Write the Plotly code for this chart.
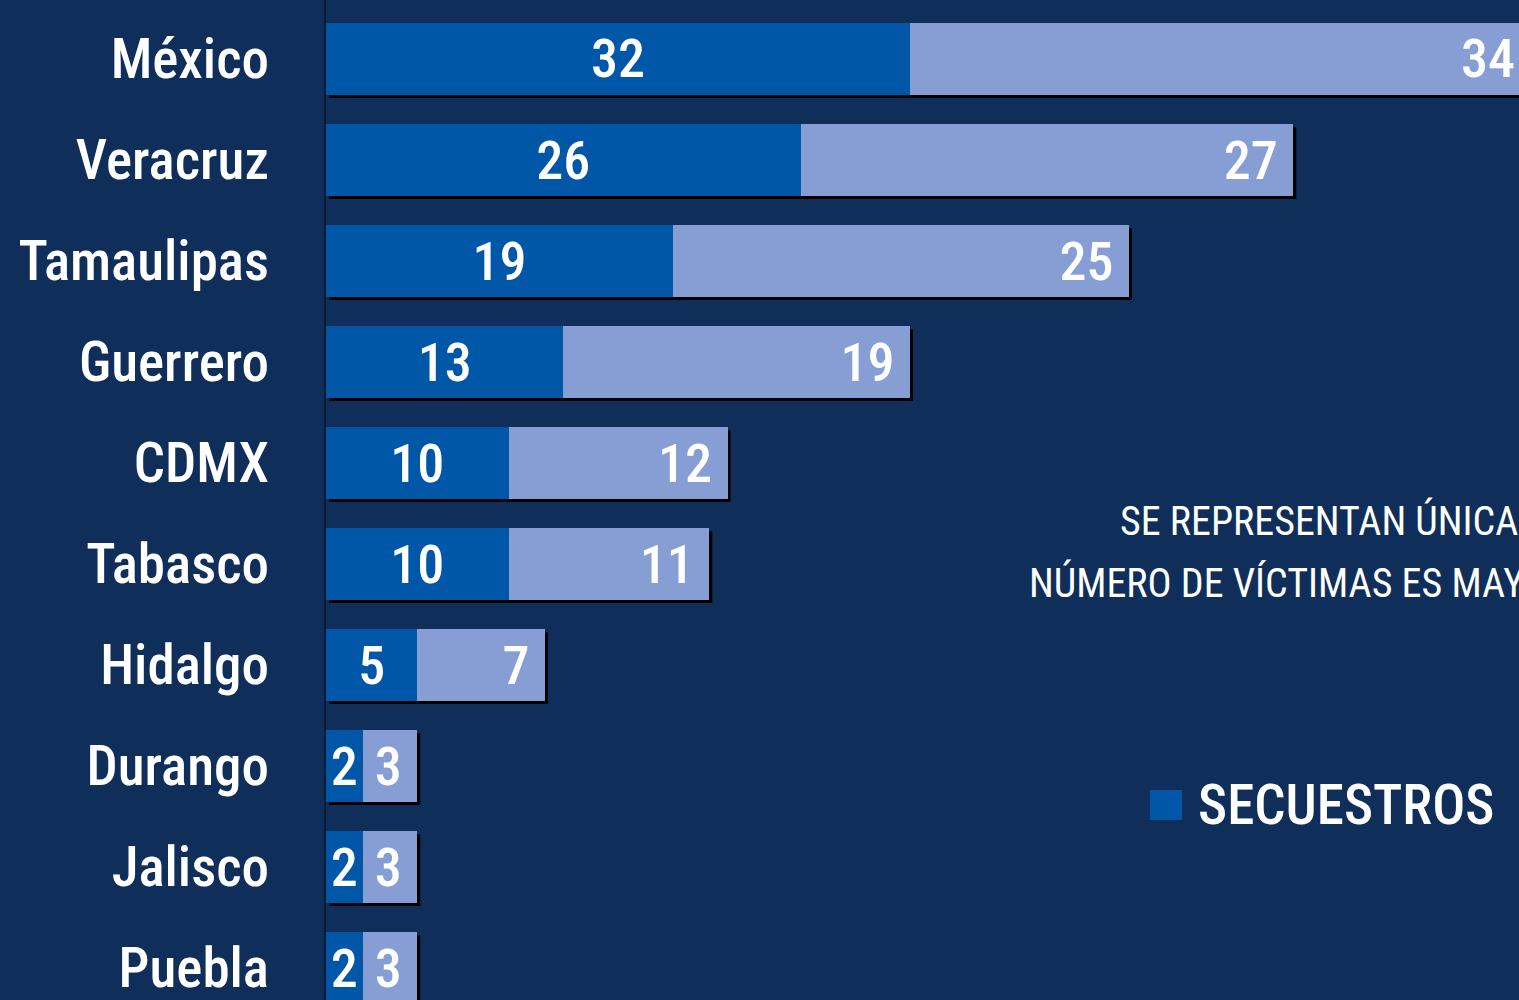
"""Secuestros por estado - barras horizontales apiladas"""
import plotly.graph_objects as go

# Datos
estados = ["México", "Veracruz", "Tamaulipas", "Guerrero", "CDMX",
           "Tabasco", "Hidalgo", "Durango", "Jalisco", "Puebla"]
secuestros = [32, 26, 19, 13, 10, 10, 5, 2, 2, 2]
victimas = [34, 27, 25, 19, 12, 11, 7, 3, 3, 3]

nota_lineas = ["SE REPRESENTAN ÚNICAMENTE LOS ESTADOS EN LOS QUE EL",
               "NÚMERO DE VÍCTIMAS ES MAYOR A CINCO"]
leyenda = "SECUESTROS"

# Estilo
FONDO = "#0f2e5a"
AZUL = "#0057a8"
AZUL_CLARO = "#879ed5"
FUENTE = "Roboto Condensed, Liberation Sans Narrow, DejaVu Sans Condensed, sans-serif"

W, H = 1519, 1000
MARGEN_IZQ = 326
ANCHO_PLOT = W - MARGEN_IZQ
PX_UNIDAD = 18.25

fig = go.Figure()

fig.add_trace(go.Bar(
    y=estados,
    x=secuestros,
    orientation='h',
    name=leyenda,
    marker=dict(color=AZUL, line=dict(width=0)),
    text=[str(v) for v in secuestros],
    textposition='inside',
    insidetextanchor='middle',
    constraintext='none',
    textfont=dict(family=FUENTE, size=54, color='white', weight=500),
))

fig.add_trace(go.Bar(
    y=estados,
    x=victimas,
    orientation='h',
    name="VÍCTIMAS",
    marker=dict(color=AZUL_CLARO, line=dict(width=0)),
    text=[f"{v}\u00a0" for v in victimas],
    textposition='inside',
    insidetextanchor='end',
    constraintext='none',
    textfont=dict(family=FUENTE, size=54, color='white', weight=500),
))

# Sombra negra desplazada bajo cada barra
medio = 0.355
dx = 3 / PX_UNIDAD
dy = 0.03
for i, (s, v) in enumerate(zip(secuestros, victimas)):
    fig.add_shape(
        type='rect', xref='x', yref='y', layer='below',
        x0=dx, x1=s + v + dx,
        y0=i - medio + dy, y1=i + medio + dy,
        fillcolor='black', line=dict(width=0),
    )


def px_x(p):
    return (p - MARGEN_IZQ) / ANCHO_PLOT


def px_y(p):
    return 1 - p / H


# Leyenda manual
fig.add_shape(
    type='rect', xref='paper', yref='paper',
    x0=px_x(1150), x1=px_x(1182), y0=px_y(820), y1=px_y(790),
    fillcolor=AZUL, line=dict(width=0),
)
fig.add_annotation(
    x=px_x(1196), y=px_y(805), xref='paper', yref='paper',
    xanchor='left', yanchor='middle', showarrow=False,
    text=leyenda, font=dict(family=FUENTE, size=55, color='white', weight=500),
)

# Nota
for texto, xpos, ypos in zip(nota_lineas, [1118, 1027], [521, 583]):
    fig.add_annotation(
        x=px_x(xpos), y=px_y(ypos), xref='paper', yref='paper',
        xanchor='left', yanchor='middle', showarrow=False,
        text=texto, font=dict(family=FUENTE, size=40, color='white'),
    )

fig.update_layout(
    barmode='stack',
    bargap=0.29,
    width=W,
    height=H,
    paper_bgcolor=FONDO,
    plot_bgcolor=FONDO,
    showlegend=False,
    margin=dict(l=MARGEN_IZQ, r=0, t=0, b=0),
    xaxis=dict(
        range=[0, ANCHO_PLOT / PX_UNIDAD],
        visible=False,
        showgrid=False,
        zeroline=False,
    ),
    yaxis=dict(
        type='category',
        categoryorder='array',
        categoryarray=estados,
        range=[(H - 59) / 101, -59 / 101],
        showgrid=False,
        zeroline=False,
        showline=True,
        linecolor='#0a1a33',
        linewidth=2,
        ticks='',
        ticklabelstandoff=44,
        tickfont=dict(family=FUENTE, size=55, color='white', weight=500),
    ),
)

fig.write_html("out.html", config={'displayModeBar': False},
               post_script="document.body.style.margin='0';")
